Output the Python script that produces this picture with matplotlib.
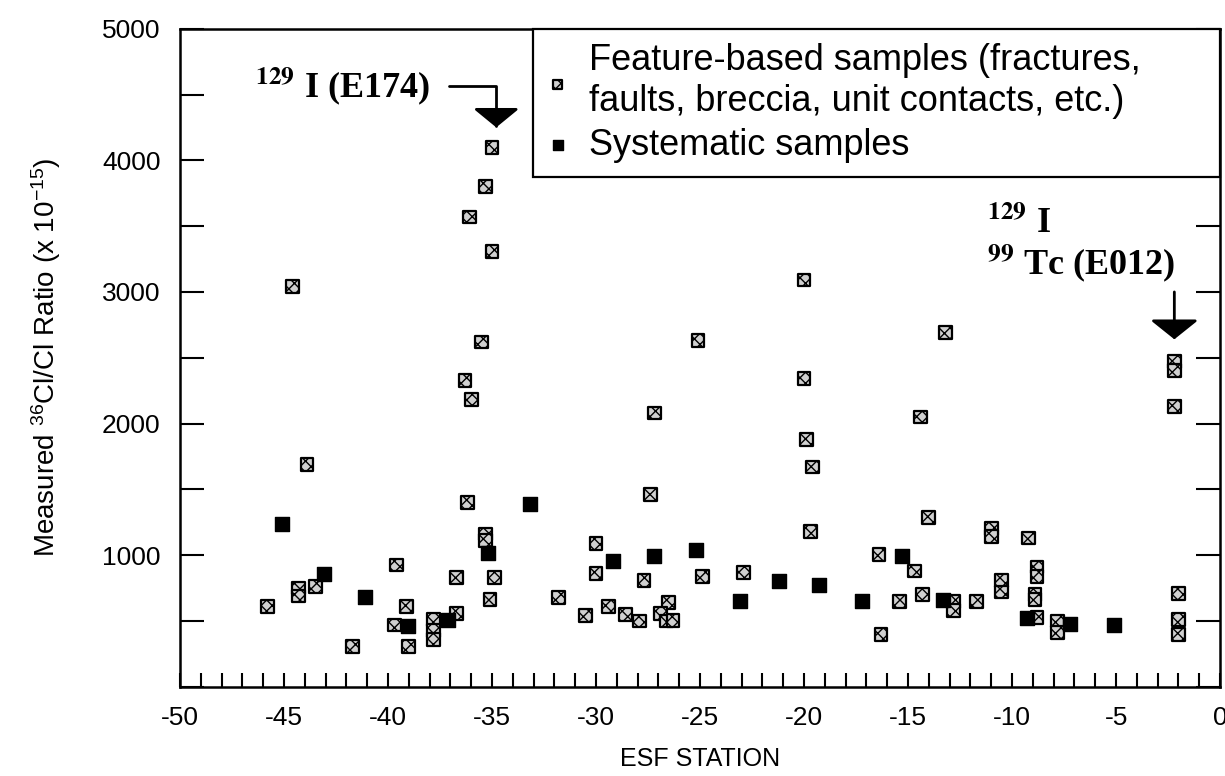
import matplotlib
matplotlib.use("Agg")
import matplotlib.pyplot as plt
from matplotlib.ticker import MultipleLocator

# Feature-based samples (hatched squares): ESF station and measured 36Cl/Cl ratio (x 1e-15)
feature_x = [
    -45.8, -44.6, -44.3, -44.3, -43.9, -43.5, -41.7, -39.6, -39.1, -39.7,
    -39.0, -37.8, -37.8, -37.8, -36.7, -36.7, -36.3, -36.0, -36.1, -36.2,
    -35.3, -35.0, -35.0, -35.5, -35.3, -35.3, -34.9, -35.1, -31.8, -30.5,
    -30.0, -30.0, -29.4, -28.6, -27.9, -27.7, -27.4, -27.2, -26.5, -26.9,
    -26.6, -26.3, -25.1, -24.9, -22.9, -20.0, -20.0, -19.9, -19.6, -19.7,
    -16.4, -16.3, -15.4, -14.7, -14.4, -14.0, -14.3, -13.2, -12.8, -12.8,
    -11.7, -11.0, -11.0, -10.5, -10.5, -9.2, -8.8, -8.8, -8.9, -8.9,
    -8.8, -7.8, -7.8, -2.2, -2.2, -2.2, -2.0, -2.0, -2.0,
]
feature_y = [
    610, 3040, 750, 690, 1690, 760, 305, 925, 607, 470,
    305, 510, 430, 360, 830, 555, 2330, 2180, 3570, 1400,
    3800, 4100, 3310, 2620, 1160, 1110, 830, 660, 680, 540,
    1090, 860, 610, 550, 500, 810, 1460, 2080, 640, 555,
    500, 505, 2630, 840, 870, 3090, 2340, 1880, 1670, 1180,
    1005, 395, 650, 880, 2050, 1285, 700, 2690, 650, 580,
    650, 1200, 1140, 810, 720, 1130, 910, 840, 700, 660,
    525, 500, 415, 2470, 2400, 2130, 710, 510, 400,
]

# Systematic samples (solid squares)
systematic_x = [
    -45.1, -43.1, -41.1, -39.05, -37.1, -35.2, -33.2, -29.2, -27.2, -25.2,
    -23.1, -21.2, -19.3, -17.2, -15.3, -13.3, -9.3, -7.2, -5.1,
]
systematic_y = [
    1235, 858, 685, 460, 510, 1020, 1385, 955, 990, 1040,
    655, 800, 770, 655, 990, 660, 525, 480, 470,
]

x_ticks = [-50, -45, -40, -35, -30, -25, -20, -15, -10, -5, 0]
x_tick_labels = ["-50", "-45", "-40", "-35", "-30", "-25", "-20", "-15", "-10", "-5", "0"]
y_ticks = [1000, 2000, 3000, 4000, 5000]
y_tick_labels = ["1000", "2000", "3000", "4000", "5000"]

plt.rcParams["font.family"] = ["Liberation Sans", "DejaVu Sans"]
plt.rcParams["mathtext.fontset"] = "custom"
plt.rcParams["mathtext.rm"] = "Liberation Sans"
plt.rcParams["mathtext.it"] = "Liberation Sans:italic"
plt.rcParams["mathtext.bf"] = "Liberation Sans:bold"
plt.rcParams["hatch.linewidth"] = 1.0

fig = plt.figure(figsize=(12.25, 7.76), dpi=100)
ax = fig.add_axes([0.147, 0.115, 0.849, 0.848])

ax.scatter(feature_x, feature_y, marker="s", s=85, facecolor="#d0d0d0",
           edgecolor="black", linewidth=1.6, hatch="xxx", zorder=3,
           label="Feature-based samples (fractures,\nfaults, breccia, unit contacts, etc.)")
ax.scatter(systematic_x, systematic_y, marker="s", s=110, color="black",
           zorder=4, label="Systematic samples")

ax.set_xlim(-50, 0)
ax.set_ylim(0, 5000)
ax.set_xticks(x_ticks)
ax.set_xticklabels(x_tick_labels)
ax.set_yticks(y_ticks)
ax.set_yticklabels(y_tick_labels)
ax.xaxis.set_minor_locator(MultipleLocator(1))
ax.yaxis.set_minor_locator(MultipleLocator(500))

ax.tick_params(axis="x", which="both", direction="in", length=10, width=1.5,
               top=False, labelsize=19, pad=14)
ax.tick_params(axis="y", which="both", direction="in", length=17, width=1.5,
               left=True, right=True, labelsize=19, pad=14)
for side in ax.spines.values():
    side.set_linewidth(1.8)

ax.set_xlabel("ESF STATION", fontsize=18, labelpad=12)
ax.set_ylabel(r"Measured $^{36}$Cl/Cl Ratio (x 10$^{-15}$)", fontsize=20)
ax.yaxis.set_label_coords(-0.113, 0.5)

leg = ax.legend(loc="upper left", bbox_to_anchor=(0.339, 0.0, 0.661, 1.0),
                mode="expand", borderaxespad=0, fontsize=26, frameon=True,
                fancybox=False, edgecolor="black", framealpha=1,
                handlelength=0.6, handletextpad=0.55, markerscale=0.7,
                borderpad=0.4, labelspacing=0.25)
leg.get_frame().set_linewidth(1.6)

serif = ["Liberation Serif", "DejaVu Serif"]
ax.annotate(r"$^{\mathbf{129}}$ I (E174)", xy=(-34.8, 4250), xytext=(-38.0, 4480),
            ha="right", va="baseline", fontsize=26, fontweight="bold",
            family=serif, math_fontfamily="stix",
            arrowprops=dict(arrowstyle="-|>,head_width=0.55,head_length=0.45",
                            connectionstyle="angle,angleA=0,angleB=90,rad=0",
                            relpos=(1.0, 0.5), color="black", lw=2,
                            shrinkA=12, shrinkB=0))
ax.text(-11.2, 3450, r"$^{\mathbf{129}}$ I", ha="left", va="baseline", fontsize=26,
        fontweight="bold", family=serif, math_fontfamily="stix")
ax.text(-11.2, 3130, r"$^{\mathbf{99}}$ Tc (E012)", ha="left", va="baseline", fontsize=26,
        fontweight="bold", family=serif, math_fontfamily="stix")
ax.annotate("", xy=(-2.2, 2640), xytext=(-2.2, 3000),
            arrowprops=dict(arrowstyle="-|>,head_width=1.5,head_length=1.2",
                            color="black", lw=2, shrinkA=0, shrinkB=0))

fig.savefig("out.png", dpi=100, facecolor="white")
